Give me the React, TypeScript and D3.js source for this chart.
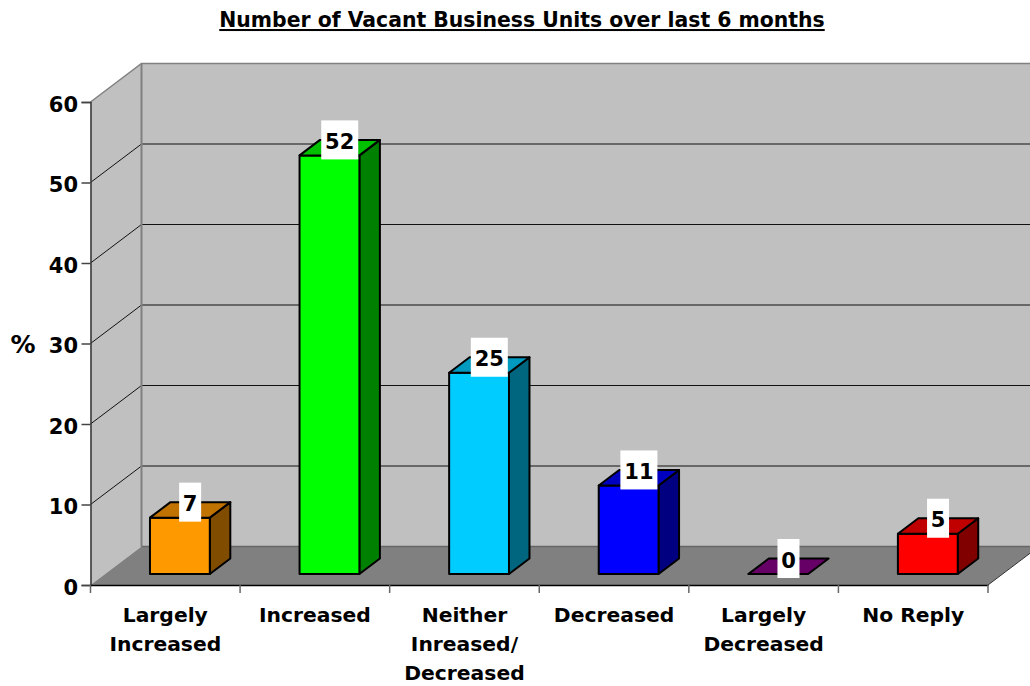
import React, { useEffect, useRef } from "react";
import * as d3 from "d3";

const categories = ["Largely Increased", "Increased", "Neither Inreased/ Decreased", "Decreased", "Largely Decreased", "No Reply"];
const categoryLines = [["Largely", "Increased"], ["Increased"], ["Neither", "Inreased/", "Decreased"], ["Decreased"], ["Largely", "Decreased"], ["No Reply"]];
const values = [7, 52, 25, 11, 0, 5];
const frontColors = ["#ff9900", "#00ff00", "#00ccff", "#0000ff", "#660066", "#ff0000"];
const topColors = ["#c07300", "#00c000", "#0099c0", "#0000c0", "#660066", "#c00000"];
const sideColors = ["#804d00", "#008000", "#006680", "#000080", "#4d004d", "#800000"];
const yTicks = [0, 10, 20, 30, 40, 50, 60];

const title = "Number of Vacant Business Units over last 6 months";
const font = "'DejaVu Sans', Verdana, sans-serif";

export default function App() {
  const ref = useRef<SVGSVGElement>(null);

  useEffect(() => {
    const svg = d3.select(ref.current);
    svg.selectAll("*").remove();

    // front plane of the 3d box
    const left = 90.5, right = 988, bottom = 585, top = 102;
    const depthX = 51, depthY = -38.5;
    const barDx = 20.5, barDy = -15.5;
    const barOffsetX = 14.6, barOffsetY = -11;

    const y = d3.scaleLinear().domain([0, 60]).range([bottom, top]);
    const x = d3.scaleBand().domain(categories).range([left, right]);
    const line = d3.line();
    const poly = (pts: [number, number][]) => line(pts) + "Z";

    // walls and floor
    svg.append("path")
      .attr("d", poly([[left, bottom], [left, top], [left + depthX, top + depthY], [left + depthX, bottom + depthY]]))
      .attr("fill", "#c0c0c0");
    svg.append("path")
      .attr("d", poly([[left + depthX, top + depthY], [right + depthX, top + depthY], [right + depthX, bottom + depthY], [left + depthX, bottom + depthY]]))
      .attr("fill", "#c0c0c0");
    svg.append("path")
      .attr("d", poly([[left, bottom], [left + depthX, bottom + depthY], [right + depthX, bottom + depthY], [right, bottom]]))
      .attr("fill", "#808080");

    // gridlines
    yTicks.filter(d => d > 0 && d < 60).forEach(d => {
      svg.append("path")
        .attr("d", line([[left, y(d)], [left + depthX, y(d) + depthY], [right + depthX, y(d) + depthY]]))
        .attr("fill", "none").attr("stroke", "#111").attr("stroke-width", 1);
    });

    // wall edges
    svg.append("path")
      .attr("d", line([[left, top], [left + depthX, top + depthY], [right + depthX, top + depthY]]))
      .attr("fill", "none").attr("stroke", "#808080").attr("stroke-width", 1.5);
    svg.append("path")
      .attr("d", line([[left + depthX, top + depthY], [left + depthX, bottom + depthY]]))
      .attr("fill", "none").attr("stroke", "#808080").attr("stroke-width", 2);
    svg.append("path")
      .attr("d", line([[left + depthX, bottom + depthY], [right + depthX, bottom + depthY]]))
      .attr("fill", "none").attr("stroke", "#666").attr("stroke-width", 1.5);
    svg.append("path")
      .attr("d", line([[right, bottom], [right + depthX, bottom + depthY]]))
      .attr("fill", "none").attr("stroke", "#333").attr("stroke-width", 1);

    // bars
    const barW = x.bandwidth() * 0.4;
    const barBase = bottom + barOffsetY;
    const bars = svg.append("g").attr("stroke", "#000").attr("stroke-width", 2).attr("stroke-linejoin", "round");
    categories.forEach((c, i) => {
      const x0 = x(c)! + barOffsetX + (x.bandwidth() - barW) / 2;
      const x1 = x0 + barW;
      const yTop = barBase - (bottom - y(values[i]));
      if (values[i] > 0) {
        bars.append("path")
          .attr("d", poly([[x1, barBase], [x1 + barDx, barBase + barDy], [x1 + barDx, yTop + barDy], [x1, yTop]]))
          .attr("fill", sideColors[i]);
        bars.append("path")
          .attr("d", poly([[x0, yTop], [x1, yTop], [x1, barBase], [x0, barBase]]))
          .attr("fill", frontColors[i]);
      }
      bars.append("path")
        .attr("d", poly([[x0, yTop], [x1, yTop], [x1 + barDx, yTop + barDy], [x0 + barDx, yTop + barDy]]))
        .attr("fill", topColors[i]);
    });

    // value labels on white boxes
    categories.forEach((c, i) => {
      const cx = x(c)! + barOffsetX + x.bandwidth() / 2 + barDx / 2;
      const yTop = barBase - (bottom - y(values[i])) + barDy;
      const w = String(values[i]).length > 1 ? 37 : 22;
      svg.append("rect")
        .attr("x", cx - w / 2).attr("y", yTop - 19.5)
        .attr("width", w).attr("height", 39).attr("fill", "#fff");
      svg.append("text")
        .attr("x", cx).attr("y", yTop + 9)
        .attr("text-anchor", "middle")
        .attr("font-family", font).attr("font-weight", "bold").attr("font-size", 21)
        .text(values[i]);
    });

    // axes
    const yAxis = svg.append("g")
      .attr("transform", `translate(${left},0)`)
      .call(d3.axisLeft(y).tickValues(yTicks).tickSize(9).tickPadding(3.5));
    yAxis.selectAll("line").attr("stroke", "#444").attr("stroke-width", 1.5);
    yAxis.select(".domain").attr("stroke", "#333").attr("stroke-width", 1.5);
    yAxis.selectAll("text")
      .attr("dy", "0.43em")
      .attr("font-family", font).attr("font-weight", "bold").attr("font-size", 21).attr("fill", "#000");

    const xAxis = svg.append("g")
      .attr("transform", `translate(0,${bottom})`)
      .call(d3.axisBottom(x).tickValues([]).tickSize(0));
    xAxis.select(".domain").attr("stroke", "#000").attr("stroke-width", 1.5);
    [0, 1, 2, 3, 4, 5].forEach(i => {
      const tx = x(categories[i])!;
      svg.append("line").attr("x1", tx).attr("x2", tx).attr("y1", bottom).attr("y2", bottom + 8)
        .attr("stroke", "#666").attr("stroke-width", 1.5);
    });
    svg.append("line").attr("x1", right).attr("x2", right).attr("y1", bottom).attr("y2", bottom + 8)
      .attr("stroke", "#666").attr("stroke-width", 1.5);

    // category labels
    categories.forEach((c, i) => {
      const cx = x(c)! + x.bandwidth() / 2;
      categoryLines[i].forEach((t, j) => {
        svg.append("text")
          .attr("x", cx).attr("y", 622 + j * 29)
          .attr("text-anchor", "middle")
          .attr("font-family", font).attr("font-weight", "bold").attr("font-size", 20.3)
          .text(t);
      });
    });

    svg.append("text")
      .attr("x", 23).attr("y", 353).attr("text-anchor", "middle")
      .attr("font-family", font).attr("font-weight", "bold").attr("font-size", 25)
      .text("%");

    svg.append("text")
      .attr("x", 522).attr("y", 27).attr("text-anchor", "middle")
      .attr("font-family", font).attr("font-weight", "bold").attr("font-size", 20.4)
      .attr("text-decoration", "underline")
      .text(title);
  }, []);

  return <svg ref={ref} width={1030} height={686} style={{ position: "absolute", left: 0, top: 0 }} />;
}
